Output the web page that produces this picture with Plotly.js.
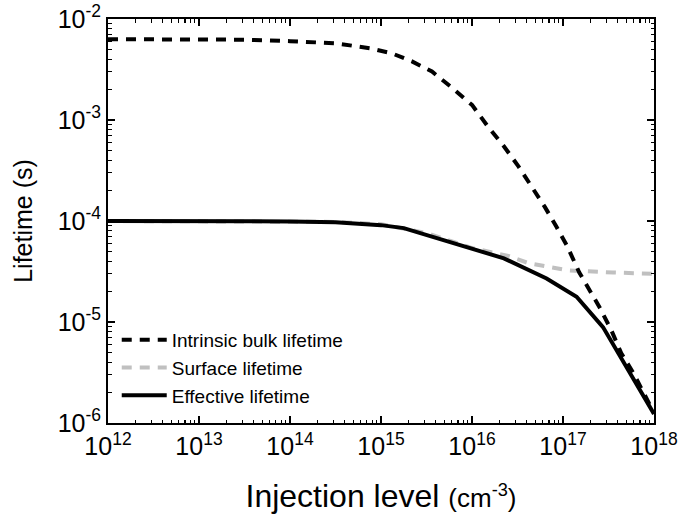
<!DOCTYPE html>
<html>
<head>
<meta charset="utf-8">
<script src="https://cdn.plot.ly/plotly-3.0.1.min.js"></script>
<style>html,body{margin:0;padding:0;background:#fff}#chart{width:678px;height:522px}</style>
</head>
<body>
<div id="chart"></div>
<script>
// Intrinsic bulk lifetime
const bulkX = [1e12, 1e13, 3.16e13, 1e14, 3.16e14, 7.6e14, 1.32e15, 2.19e15, 3.63e15, 6.03e15, 1e16, 1.51e16, 2.24e16, 3.24e16, 4.57e16, 6.31e16, 8.51e16, 1.1e17, 1.51e17, 2.51e17, 3.39e17, 4.37e17, 5.89e17, 1e18];
const bulkY = [6.31e-3, 6.31e-3, 6.24e-3, 6.03e-3, 5.75e-3, 5.13e-3, 4.57e-3, 3.80e-3, 3.02e-3, 2.09e-3, 1.41e-3, 8.51e-4, 5.50e-4, 3.47e-4, 2.19e-4, 1.38e-4, 8.71e-5, 5.75e-5, 3.09e-5, 1.41e-5, 8.32e-6, 4.90e-6, 3.16e-6, 1.26e-6];
// Surface lifetime
const surfX = [1e12, 1e13, 1e14, 3.16e14, 1e15, 3.16e15, 1e16, 2.51e16, 4.27e16, 1.17e17, 3.55e17, 1e18];
const surfY = [1e-4, 1e-4, 9.9e-5, 9.8e-5, 9.3e-5, 7.6e-5, 5.4e-5, 4.5e-5, 3.8e-5, 3.24e-5, 3.09e-5, 3.0e-5];
// Effective lifetime
const effX = [1e12, 1e13, 1e14, 3.16e14, 1e15, 1.78e15, 4.07e15, 9.55e15, 2.24e16, 6.6e16, 1.41e17, 2.75e17, 5.01e17, 1e18];
const effY = [1.0e-4, 1.0e-4, 9.9e-5, 9.7e-5, 9.1e-5, 8.5e-5, 6.8e-5, 5.4e-5, 4.27e-5, 2.7e-5, 1.78e-5, 8.9e-6, 3.6e-6, 1.23e-6];

const names = ['Intrinsic bulk lifetime', 'Surface lifetime', 'Effective lifetime'];
const xTickVals = [1e12, 1e13, 1e14, 1e15, 1e16, 1e17, 1e18];
const xTickText = ['10<sup>12</sup>', '10<sup>13</sup>', '10<sup>14</sup>', '10<sup>15</sup>', '10<sup>16</sup>', '10<sup>17</sup>', '10<sup>18</sup>'];
const yTickVals = [1e-6, 1e-5, 1e-4, 1e-3, 1e-2];
const yTickText = ['10<sup>-6</sup>', '10<sup>-5</sup>', '10<sup>-4</sup>', '10<sup>-3</sup>', '10<sup>-2</sup>'];

function minorTicks(lo, hi) {
  const out = [];
  for (let e = lo; e < hi; e++) for (let d = 2; d <= 9; d++) out.push(d * Math.pow(10, e));
  return out;
}

const FONT = 'Arial, "Liberation Sans", sans-serif';

const traces = [
  {x: surfX, y: surfY, name: names[1], mode: 'lines', legendrank: 2,
   line: {color: '#c0c0c0', width: 4, dash: '10px,8px'}},
  {x: effX, y: effY, name: names[2], mode: 'lines', legendrank: 3,
   line: {color: '#000000', width: 4}},
  {x: bulkX, y: bulkY, name: names[0], mode: 'lines', legendrank: 1,
   line: {color: '#000000', width: 4, dash: '10px,8px'}}
];

const axisCommon = {
  type: 'log', showgrid: false, zeroline: false, showline: true, linecolor: '#000', linewidth: 2,
  mirror: 'allticks', ticks: 'inside', ticklen: 7, tickwidth: 1.5, tickcolor: '#000',
  tickmode: 'array', ticklabeloverflow: 'allow', tickfont: {family: FONT, size: 25, color: '#000'}
};

const layout = {
  width: 678, height: 522,
  margin: {l: 108, r: 24, t: 19, b: 99},
  paper_bgcolor: '#fff', plot_bgcolor: '#fff',
  showlegend: true,
  legend: {x: 0.016, y: 0.2525, xanchor: 'left', yanchor: 'top', bgcolor: 'rgba(0,0,0,0)',
           font: {family: FONT, size: 19, color: '#000'}, itemwidth: 45},
  xaxis: Object.assign({}, axisCommon, {
    range: [11.99999, 18.00001], tickvals: xTickVals, ticktext: xTickText,
    minor: {tickmode: 'array', tickvals: minorTicks(12, 18), ticks: 'inside', ticklen: 3.5, tickwidth: 1.2, tickcolor: '#000'},
    title: {text: 'Injection level <span style="font-size:26px">(cm<sup>-3</sup>)</span>', font: {family: FONT, size: 32, color: '#000'}, standoff: 26}
  }),
  yaxis: Object.assign({}, axisCommon, {
    range: [-6.00001, -1.99999], tickvals: yTickVals, ticktext: yTickText,
    minor: {tickmode: 'array', tickvals: minorTicks(-6, -2), ticks: 'inside', ticklen: 3.5, tickwidth: 1.2, tickcolor: '#000'},
    title: {text: 'Lifetime (s)', font: {family: FONT, size: 25, color: '#000'}, standoff: 18}
  })
};

Plotly.newPlot('chart', traces, layout, {staticPlot: true, displayModeBar: false});
</script>
</body>
</html>
